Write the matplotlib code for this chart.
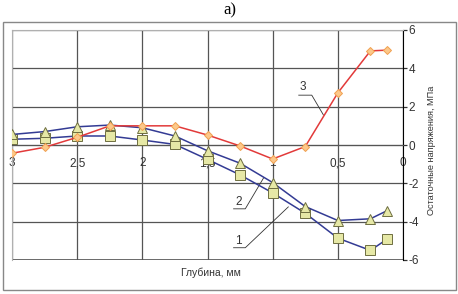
import numpy as np
import matplotlib
matplotlib.use('Agg')
import matplotlib.pyplot as plt

# Глубина, мм
depth = [3, 2.75, 2.5, 2.25, 2, 1.75, 1.5, 1.25, 1, 0.75, 0.5, 0.25, 0.12]

# Остаточные напряжения, МПа
curve1 = [0.3, 0.35, 0.47, 0.47, 0.26, 0.03, -0.75, -1.56, -2.5, -3.56, -4.86, -5.5, -4.9]
curve2 = [0.55, 0.7, 0.95, 1.04, 0.9, 0.47, -0.3, -0.95, -1.96, -3.21, -3.94, -3.85, -3.42]
curve3 = [-0.43, -0.12, 0.4, 1.0, 1.0, 1.0, 0.52, -0.05, -0.73, -0.08, 2.72, 4.91, 4.95]

x_ticks = [3, 2.5, 2, 1.5, 1, 0.5, 0]
x_labels = ['3', '2,5', '2', '1,5', '1', '0,5', '0']
y_ticks = [-6, -4, -2, 0, 2, 4, 6]

plt.rcParams['font.family'] = ['Liberation Sans', 'DejaVu Sans']
plt.rcParams['axes.unicode_minus'] = False

fig = plt.figure(figsize=(4.58, 2.94), dpi=100)
ax = fig.add_axes([12 / 458, 1 - 260 / 294, (403 - 12) / 458, 230 / 294])

blue = '#333b94'
ax.plot(depth, curve1, color=blue, lw=1.1, marker='s', ms=6.5,
        mfc='#e6e8a6', mec='#6e6e40', mew=0.7, zorder=3)
ax.plot(depth, curve2, color=blue, lw=1.1, marker='^', ms=7,
        mfc='#e6e8a6', mec='#6e6e40', mew=0.7, zorder=3)
ax.plot(depth, curve3, color='#e23a3a', lw=1.1, marker='D', ms=4.5,
        mfc='#fcc88a', mec='#f0a050', mew=0.7, zorder=3)

ax.set_xlim(3, 0)
ax.set_ylim(-6, 6)
ax.set_xticks(x_ticks)
ax.set_xticklabels(x_labels)
ax.set_yticks(y_ticks)

ax.grid(True, color='#555555', lw=0.9)
ax.set_axisbelow(True)

# ось X проходит через ноль
ax.spines['bottom'].set_position(('data', 0))
ax.spines['bottom'].set_color('#555555')
ax.spines['left'].set_color('#b0b0b0')
ax.spines['top'].set_color('#b0b0b0')
ax.spines['right'].set_color('black')
ax.axhline(-6, color='#555555', lw=1.2, zorder=2)
ax.tick_params(axis='x', length=0, pad=9, labelsize=8.5, colors='#333333')
ax.yaxis.tick_right()
ax.tick_params(axis='y', direction='out', length=3, width=0.9, pad=1,
               labelsize=8.5, colors='#333333')

# выноски
ax.text(0.77, 3.0, '3', fontsize=8.5, ha='center', va='center', color='#333333')
ax.plot([0.8, 0.7, 0.61], [2.6, 2.6, 1.56], color='#333333', lw=0.6)
ax.text(1.26, -2.97, '2', fontsize=8.5, ha='center', va='center', color='#333333')
ax.plot([1.30, 1.21, 1.07], [-3.33, -3.33, -1.72], color='#333333', lw=0.6)
ax.text(1.26, -5.0, '1', fontsize=8.5, ha='center', va='center', color='#333333')
ax.plot([1.30, 1.21, 0.88], [-5.36, -5.36, -3.23], color='#333333', lw=0.6)

fig.text(211 / 458, 1 - 273 / 294, 'Глубина, мм', fontsize=7.5,
         ha='center', va='center', color='#333333')
fig.text(432 / 458, 1 - 150 / 294, 'Остаточные напряжения, МПа', fontsize=6.6,
         rotation=90, ha='center', va='center', color='#333333')
fig.text(230 / 458, 1 - 10 / 294, 'а)', fontsize=12, family='Liberation Serif',
         ha='center', va='center')

frame = plt.Rectangle((3 / 458, 1 - 290 / 294), 453 / 458, 268 / 294,
                      transform=fig.transFigure, fill=False, ec='#888888', lw=1)
fig.add_artist(frame)

fig.savefig('out.png', dpi=100)
